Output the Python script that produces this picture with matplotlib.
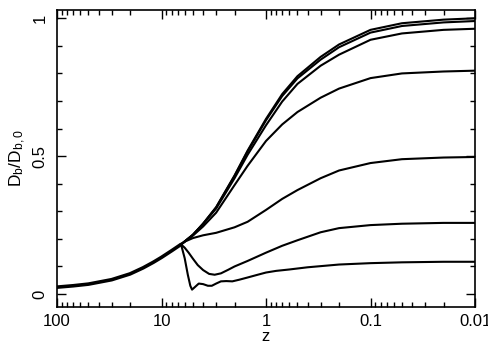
import matplotlib
matplotlib.use("Agg")
import matplotlib.pyplot as plt
from matplotlib.ticker import FixedLocator, NullFormatter, LogLocator

plt.rcParams['font.family'] = ['Liberation Sans', 'DejaVu Sans']
plt.rcParams['mathtext.fontset'] = 'custom'
plt.rcParams['mathtext.rm'] = 'Liberation Sans'
plt.rcParams['mathtext.it'] = 'Liberation Sans'
plt.rcParams['mathtext.default'] = 'regular'

# common trunk (high z)
trunk_z = [100, 70, 50, 30, 20, 15, 12, 10, 8, 6.5]
trunk_v = [0.025, 0.030, 0.036, 0.052, 0.073, 0.095, 0.115, 0.133, 0.157, 0.18]

# branch A (thick top, ends ~1.0)
a_z = [6.5, 5, 4, 3, 2, 1.5, 1, 0.7, 0.5, 0.3, 0.2, 0.1, 0.05, 0.02, 0.01]
a_v = [0.18, 0.215, 0.255, 0.315, 0.43, 0.52, 0.635, 0.725, 0.79, 0.86, 0.905, 0.958, 0.982, 0.995, 1.0]
# branch B (overlapping A, ends ~0.99)
b_z = [6.5, 5, 4, 3, 2, 1.5, 1, 0.7, 0.5, 0.3, 0.2, 0.1, 0.05, 0.02, 0.01]
b_v = [0.18, 0.215, 0.255, 0.314, 0.428, 0.517, 0.63, 0.718, 0.782, 0.85, 0.895, 0.948, 0.972, 0.985, 0.99]
# branch C (ends ~0.96)
c_z = [6.5, 5, 4, 3, 2, 1.5, 1, 0.7, 0.5, 0.3, 0.2, 0.1, 0.05, 0.02, 0.01]
c_v = [0.18, 0.215, 0.254, 0.31, 0.42, 0.505, 0.612, 0.698, 0.762, 0.828, 0.868, 0.922, 0.945, 0.958, 0.962]
# branch D (ends ~0.81)
d_z = [6.5, 5, 4, 3, 2, 1.5, 1, 0.7, 0.5, 0.3, 0.2, 0.1, 0.05, 0.02, 0.01]
d_v = [0.18, 0.212, 0.245, 0.295, 0.395, 0.465, 0.555, 0.615, 0.66, 0.712, 0.745, 0.783, 0.8, 0.807, 0.81]
# branch E (ends ~0.50)
e_z = [6.5, 6, 5, 4, 3, 2, 1.5, 1, 0.7, 0.5, 0.3, 0.2, 0.1, 0.05, 0.02, 0.01]
e_v = [0.18, 0.19, 0.203, 0.213, 0.222, 0.242, 0.262, 0.305, 0.345, 0.377, 0.42, 0.448, 0.475, 0.489, 0.495, 0.497]
# branch F (ends ~0.26)
f_z = [6.5, 6, 5.5, 5, 4.5, 4, 3.5, 3.1, 2.7, 2.3, 2, 1.5, 1, 0.7, 0.5, 0.3, 0.2, 0.1, 0.05, 0.02, 0.01]
f_v = [0.18, 0.168, 0.15, 0.128, 0.105, 0.087, 0.073, 0.07, 0.075, 0.088, 0.1, 0.12, 0.15, 0.175, 0.195, 0.224, 0.239, 0.25, 0.255, 0.258, 0.258]
# branch G (ends ~0.12)
g_z = [6.5, 6, 5.6, 5.3, 5.1, 4.8, 4.4, 4.0, 3.6, 3.3, 3.0, 2.7, 2.4, 2.1, 1.8, 1.5, 1.2, 1, 0.8, 0.6, 0.4, 0.2, 0.1, 0.05, 0.02, 0.01]
g_v = [0.18, 0.13, 0.07, 0.03, 0.016, 0.025, 0.038, 0.036, 0.030, 0.030, 0.038, 0.046, 0.047, 0.046, 0.052, 0.06, 0.07, 0.078, 0.084, 0.089, 0.097, 0.107, 0.112, 0.115, 0.117, 0.117]

fig = plt.figure(figsize=(4.88, 3.46), dpi=100)
ax = fig.add_axes([57/488, 1-307/346, (475-57)/488, (307-10)/346])

lw = 1.5
ax.plot(trunk_z, trunk_v, color='black', lw=2.6, solid_capstyle='round')
for zz, vv in [(a_z, a_v), (b_z, b_v), (c_z, c_v), (d_z, d_v), (e_z, e_v), (f_z, f_v), (g_z, g_v)]:
    ax.plot(zz, vv, color='black', lw=lw, solid_joinstyle='round')

ax.set_xscale('log')
ax.set_xlim(100, 0.01)
ax.set_ylim(-0.047, 1.03)

ax.xaxis.set_major_locator(FixedLocator([100, 10, 1, 0.1, 0.01]))
ax.set_xticklabels(['100', '10', '1', '0.1', '0.01'])
ax.xaxis.set_minor_locator(LogLocator(base=10, subs=range(2, 10), numticks=20))
ax.xaxis.set_minor_formatter(NullFormatter())

ax.yaxis.set_major_locator(FixedLocator([0, 0.5, 1]))
ax.set_yticklabels(['0', '0.5', '1'])
ax.yaxis.set_minor_locator(FixedLocator([0.1, 0.2, 0.3, 0.4, 0.6, 0.7, 0.8, 0.9]))

ax.tick_params(which='both', direction='in', top=True, right=True, width=1.0, labelsize=12)
ax.tick_params(which='major', length=6.5, pad=5)
ax.tick_params(which='minor', length=3.6)
ax.tick_params(axis='y', which='major', labelrotation=90, pad=7)
for lab in ax.get_yticklabels():
    lab.set_va('center')

for s in ax.spines.values():
    s.set_linewidth(1.2)

ax.set_xlabel('z', fontsize=12, labelpad=0)
ax.set_ylabel(r'$D_b/D_{b,0}$', fontsize=12.5, labelpad=3)

fig.savefig('out.png', dpi=100)
